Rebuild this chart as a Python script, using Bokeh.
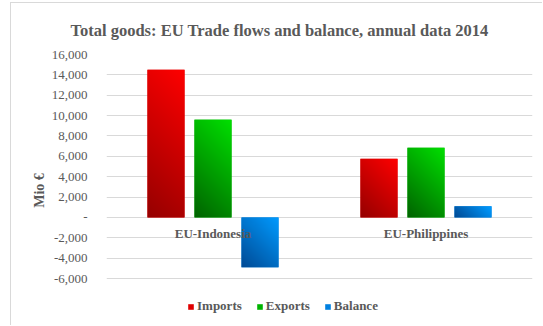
import numpy as np
from bokeh.plotting import figure
from bokeh.models import (Range1d, FixedTicker, NumeralTickFormatter, Legend,
                          LegendItem, ColumnDataSource)
from bokeh.embed import file_html
from bokeh.resources import INLINE
from bokeh.core.properties import value

# ---- data ----
categories = ["EU-Indonesia", "EU-Philippines"]
imports = [14500, 5750]
exports = [9600, 6840]
balance = [-4900, 1090]
series_names = ["Imports", "Exports", "Balance"]
y_ticks = [-6000, -4000, -2000, 0, 2000, 4000, 6000, 8000, 10000, 12000, 14000, 16000]

# ---- style ----
FONT = "Liberation Serif"
GREY = "#595959"
FW, FH = 426, 224          # plotted band (16,000 .. -6,000) in pixels
LEG_H = 48                 # extra room under the band for the legend
X0, X1 = -0.5, 1.5
Y0, Y1 = -6000, 16000
Y0_EXT = Y0 - (Y1 - Y0) * LEG_H / FH
BAR_W = 0.174
STEP = 0.2207
solid = ["#E00000", "#00B400", "#0080E0"]
bright = [(255, 0, 0), (0, 224, 0), (0, 155, 255)]
dark = [(150, 0, 0), (0, 100, 0), (0, 75, 150)]

p = figure(width=532, height=323, x_range=Range1d(X0, X1), y_range=Range1d(Y0_EXT, Y1),
           output_backend="svg", toolbar_location=None,
           min_border_left=95, min_border_right=11, min_border_top=51, min_border_bottom=0)
p.styles = {"margin-left": "10px", "margin-top": "2px",
            "border-left": "1px solid #D9D9D9", "border-top": "1px solid #D9D9D9"}

p.title.text = "Total goods: EU Trade flows and balance, annual data 2014"
p.title.text_font = FONT
p.title.text_font_size = "16.5px"
p.title.text_font_style = "bold"
p.title.text_color = GREY
p.title.align = "left"
p.title.offset = -36
p.title.standoff = 29

p.outline_line_color = None
p.xaxis.visible = False
p.xgrid.visible = False
p.ygrid.grid_line_color = "#D9D9D9"
p.ygrid.grid_line_width = 1

ax = p.yaxis[0]
ax.ticker = FixedTicker(ticks=y_ticks)
ax.formatter = NumeralTickFormatter(format="0,0")
ax.major_label_overrides = {0: "-"}
ax.axis_line_color = None
ax.major_tick_line_color = None
ax.minor_tick_line_color = None
ax.major_label_text_font = FONT
ax.major_label_text_font_size = "13px"
ax.major_label_text_color = GREY
ax.major_label_standoff = 13
ax.axis_label = "Mio €"
ax.axis_label_text_font = FONT
ax.axis_label_text_font_size = "14px"
ax.axis_label_text_font_style = "bold"
ax.axis_label_text_color = GREY
ax.axis_label_standoff = 2

idx = np.arange(len(categories))
series = [imports, exports, balance]
offsets = [-STEP, 0.0, STEP]
px_x = FW / (X1 - X0)
px_y = FH / (Y1 - Y0)


def gradient(b, d, w_px, h_px):
    nx = max(int(round(w_px)), 2)
    ny = max(int(round(h_px)), 2)
    X, Y = np.meshgrid(np.arange(nx), np.arange(ny))
    t = (X + Y) / float(nx - 1 + ny - 1)
    img = np.empty((ny, nx), dtype=np.uint32)
    view = img.view(dtype=np.uint8).reshape((ny, nx, 4))
    for c in range(3):
        view[:, :, c] = (d[c] + (b[c] - d[c]) * t).astype(np.uint8)
    view[:, :, 3] = 255
    return img


items = []
for s, vals in enumerate(series):
    xs = idx + offsets[s]
    src = ColumnDataSource(dict(x=xs, top=vals))
    r = p.vbar(x="x", top="top", bottom=0, width=BAR_W, source=src,
               fill_color=solid[s], line_color=None)
    items.append(LegendItem(label=series_names[s], renderers=[r]))
    for xi, v in zip(xs, vals):
        img = gradient(bright[s], dark[s], BAR_W * px_x, abs(v) * px_y)
        p.image_rgba(image=[img], x=xi - BAR_W / 2, y=min(0, v), dw=BAR_W, dh=abs(v))

p.text(x=idx, y=[0] * len(categories), text=categories, text_align="center",
       text_baseline="middle", y_offset=16, text_font=value(FONT),
       text_font_size="13px", text_font_style="bold", text_color=GREY)

legend = Legend(items=items, orientation="horizontal", location=(81, 12),
                padding=0, margin=0, spacing=14, label_standoff=3,
                glyph_width=7, glyph_height=7, border_line_color=None,
                background_fill_alpha=0,
                label_text_font=FONT, label_text_font_size="13px",
                label_text_font_style="bold", label_text_color=GREY)
p.add_layout(legend)

open("out.html", "w").write(file_html(p, INLINE))
